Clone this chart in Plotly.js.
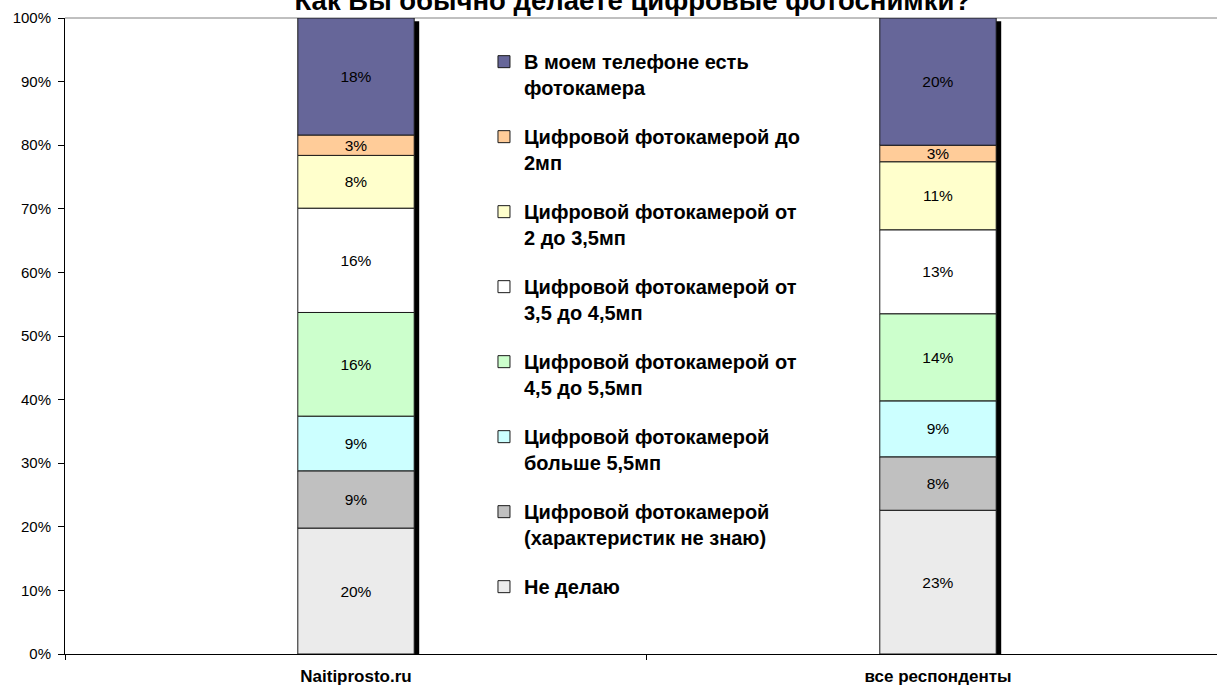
<!DOCTYPE html>
<html>
<head>
<meta charset="utf-8">
<script src="https://cdn.plot.ly/plotly-3.0.1.min.js"></script>
<style>
html,body{margin:0;padding:0;background:#fff;overflow:hidden;}
#chart{width:1217px;height:686px;}
</style>
</head>
<body>
<div id="chart"></div>
<script>
// ---- data ----
var categories = ['Naitiprosto.ru', 'все респонденты'];
var seriesNames = [
  'Не делаю',
  'Цифровой фотокамерой<br>(характеристик не знаю)',
  'Цифровой фотокамерой<br>больше 5,5мп',
  'Цифровой фотокамерой от<br>4,5 до 5,5мп',
  'Цифровой фотокамерой от<br>3,5 до 4,5мп',
  'Цифровой фотокамерой от<br>2 до 3,5мп',
  'Цифровой фотокамерой до<br>2мп',
  'В моем телефоне есть<br>фотокамера'
];
var neDelayu  = [19.8, 22.6];
var neZnayu   = [9.0, 8.4];
var bolshe55  = [8.6, 8.8];
var ot45do55  = [16.3, 13.7];
var ot35do45  = [16.4, 13.2];
var ot2do35   = [8.3, 10.7];
var do2       = [3.2, 2.6];
var telefon   = [18.4, 20.0];
var yTicks = [0, 10, 20, 30, 40, 50, 60, 70, 80, 90, 100];
var yTickLabels = ['0%', '10%', '20%', '30%', '40%', '50%', '60%', '70%', '80%', '90%', '100%'];

var seriesValues = [neDelayu, neZnayu, bolshe55, ot45do55, ot35do45, ot2do35, do2, telefon];
var colors = ['#EBEBEB', '#C0C0C0', '#CCFFFF', '#CCFFCC', '#FFFFFF', '#FFFFCC', '#FFCC99', '#666699'];

var FONT = 'Liberation Sans, Arial, sans-serif';
var BAR_W = 0.2;

// totals (for the 3D shadow behind each column)
var totals = categories.map(function (c, i) {
  return seriesValues.reduce(function (s, arr) { return s + arr[i]; }, 0);
});

var traces = [];
// shadow
traces.push({
  type: 'bar',
  x: categories,
  y: totals.map(function (t) { return t - 0.5; }),
  base: 0,
  width: BAR_W,
  offset: -BAR_W / 2 + 0.0086,
  marker: { color: '#000000', line: { width: 0 } },
  showlegend: false,
  hoverinfo: 'skip'
});

var cum = categories.map(function () { return 0; });
seriesValues.forEach(function (vals, k) {
  traces.push({
    type: 'bar',
    name: seriesNames[k],
    legendgroup: 'g' + k,
    legendrank: 100 - k,
    x: categories,
    y: vals,
    base: cum.slice(),
    width: BAR_W,
    marker: { color: colors[k], line: { color: '#1a1a1a', width: 1 } },
    text: vals.map(function (v) { return Math.round(v) + '%'; }),
    textposition: 'inside',
    insidetextanchor: 'middle',
    textangle: 0,
    constraintext: 'none',
    textfont: { family: FONT, size: 15.5, color: '#000000' },
    hoverinfo: 'name+y'
  });
  cum = cum.map(function (c, i) { return c + vals[i]; });
});

var layout = {
  width: 1217,
  height: 686,
  paper_bgcolor: '#ffffff',
  plot_bgcolor: '#ffffff',
  barmode: 'overlay',
  margin: { l: 65, r: 0, t: 18, b: 32, pad: 0 },
  font: { family: FONT, color: '#000000' },
  title: {
    text: 'Как Вы обычно делаете цифровые фотоснимки?',
    font: { family: FONT, size: 27.5, color: '#000000', weight: 'bold' },
    x: 0.52, xanchor: 'center', xref: 'container',
    y: 0.9995, yanchor: 'middle', yref: 'container'
  },
  xaxis: {
    type: 'category',
    range: [-0.5, 1.4794],
    showgrid: false,
    showline: true, linecolor: '#000000', linewidth: 1,
    ticks: 'outside', tickson: 'boundaries', ticklen: 5, tickcolor: '#000000',
    ticklabelstandoff: 7,
    tickfont: { family: FONT, size: 17, color: '#000000', weight: 'bold' },
    zeroline: false,
    fixedrange: true
  },
  yaxis: {
    range: [0, 100],
    tickvals: yTicks,
    ticktext: yTickLabels,
    showgrid: false,
    showline: true, linecolor: '#000000', linewidth: 1,
    ticks: 'outside', ticklen: 6, tickcolor: '#000000',
    ticklabelstandoff: 4,
    tickfont: { family: FONT, size: 15, color: '#000000' },
    zeroline: false,
    fixedrange: true
  },
  shapes: [{
    type: 'line', xref: 'paper', yref: 'paper',
    x0: 0, x1: 1, y0: 1, y1: 1,
    line: { color: '#808080', width: 1 },
    layer: 'below'
  }],
  legend: {
    x: 0.3637, xanchor: 'left',
    y: 0.962, yanchor: 'top',
    traceorder: 'grouped',
    tracegroupgap: 20,
    valign: 'top',
    bgcolor: 'rgba(0,0,0,0)',
    font: { family: FONT, size: 20, color: '#000000', weight: 'bold' }
  },
  showlegend: true
};

Plotly.newPlot('chart', traces, layout, { displayModeBar: false, staticPlot: true });
</script>
</body>
</html>
